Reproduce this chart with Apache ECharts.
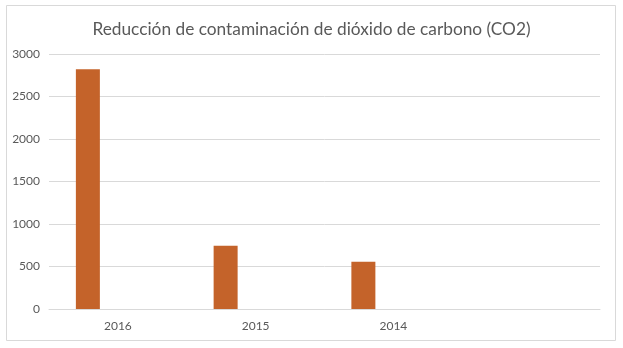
<!DOCTYPE html>
<html>
<head>
<meta charset="utf-8">
<script src="https://cdn.jsdelivr.net/npm/echarts@6/dist/echarts.min.js"></script>
<style>html,body{margin:0;padding:0;background:#fff}#c{width:623px;height:348px}</style>
</head>
<body>
<div id="c"></div>
<script>
const categories = ['2016', '2015', '2014', ''];
const values = [2820, 745, 555, null];
const emptySeries = [null, null, null, null];
const yTicks = { min: 0, max: 3000, interval: 500 };
const titleText = 'Reducción de contaminación de dióxido de carbono (CO2)';

const chart = echarts.init(document.getElementById('c'), null, { renderer: 'canvas' });
chart.setOption({
  animation: false,
  backgroundColor: '#ffffff',
  graphic: [{
    type: 'rect', shape: { x: 6.5, y: 5.5, width: 609, height: 335 },
    style: { fill: 'none', stroke: '#d9d9d9', lineWidth: 1 }, silent: true, z: -1
  }],
  title: {
    text: titleText, left: 'center', top: 16,
    textStyle: { fontFamily: 'Lato', fontWeight: 'normal', fontSize: 17.3, color: '#595959' }
  },
  grid: { left: 49, right: 23, top: 54, bottom: 39, containLabel: false },
  xAxis: {
    type: 'category', data: categories,
    axisLine: { lineStyle: { color: '#d9d9d9' } },
    axisTick: { show: false },
    axisLabel: { color: '#595959', fontSize: 12, fontFamily: 'Lato', margin: 11 }
  },
  yAxis: {
    type: 'value', min: yTicks.min, max: yTicks.max, interval: yTicks.interval,
    axisLine: { show: false }, axisTick: { show: false },
    splitLine: { lineStyle: { color: '#d9d9d9' } },
    axisLabel: { color: '#595959', fontSize: 12, fontFamily: 'Lato', margin: 9, formatter: v => String(v) }
  },
  series: [
    { type: 'bar', data: values, barWidth: 24, barGap: '150%', itemStyle: { color: '#c4632a' } },
    { type: 'bar', data: emptySeries, barWidth: 24, itemStyle: { color: '#ed7d31' } }
  ]
});
</script>
</body>
</html>
